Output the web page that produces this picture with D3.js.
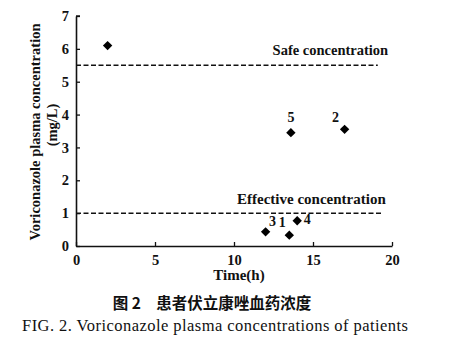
<!DOCTYPE html>
<html>
<head>
<meta charset="utf-8">
<script src="https://cdn.jsdelivr.net/npm/d3@7"></script>
<style>
  html, body { margin: 0; padding: 0; background: #fff; }
  svg { display: block; }
</style>
</head>
<body>
<svg id="chart" width="458" height="348"></svg>
<script>
// Patient measurements: time (h) vs plasma concentration (mg/L)
const patientIds = ["", "5", "2", "3", "1", "4"];
const times = [2.0, 13.6, 17.0, 12.0, 13.5, 14.0];
const concentrations = [6.1, 3.45, 3.55, 0.43, 0.33, 0.77];

// Reference thresholds
const thresholdNames = ["Safe concentration", "Effective concentration"];
const thresholdValues = [5.5, 1.0];
const thresholdEnds = [19.1, 19.4];

const xTicks = [0, 5, 10, 15, 20];
const yTicks = [0, 1, 2, 3, 4, 5, 6, 7];

const serif = "'Liberation Serif', 'Times New Roman', serif";
const svg = d3.select("#chart");

const x = d3.scaleLinear().domain([0, 20]).range([76, 392]);
const y = d3.scaleLinear().domain([0, 7]).range([246, 16]);

// Axes with inward ticks
const xAxis = d3.axisBottom(x).tickValues(xTicks).tickFormat(d3.format("d"))
  .tickSizeInner(-4).tickSizeOuter(0).tickPadding(8);
const yAxis = d3.axisLeft(y).tickValues(yTicks).tickFormat(d3.format("d"))
  .tickSizeInner(-4).tickSizeOuter(0).tickPadding(7);

const gx = svg.append("g").attr("transform", `translate(0,${y(0)})`).call(xAxis);
const gy = svg.append("g").attr("transform", `translate(${x(0)},0)`).call(yAxis);

[gx, gy].forEach(g => {
  g.select(".domain").attr("stroke", "#111").attr("stroke-width", 1.6);
  g.selectAll(".tick line").attr("stroke", "#111").attr("stroke-width", 1.3);
  g.selectAll(".tick text")
    .attr("font-family", serif).attr("font-weight", "bold")
    .attr("font-size", 14.5).attr("fill", "#111");
});
gx.selectAll(".tick text").attr("dy", "0.75em");

// Small cap at the top of the y axis
svg.append("line")
  .attr("x1", x(0)).attr("x2", x(0) + 4)
  .attr("y1", y(7)).attr("y2", y(7))
  .attr("stroke", "#111").attr("stroke-width", 1.4);

// Threshold lines
thresholdValues.forEach((v, i) => {
  svg.append("line")
    .attr("x1", x(0)).attr("x2", x(thresholdEnds[i]))
    .attr("y1", y(v)).attr("y2", y(v))
    .attr("stroke", "#111").attr("stroke-width", 1.5)
    .attr("stroke-dasharray", "5,2.5");
});

svg.append("text")
  .attr("x", x(16.1)).attr("y", y(thresholdValues[0]) - 10)
  .attr("text-anchor", "middle")
  .attr("font-family", serif).attr("font-weight", "bold").attr("font-size", 14.5)
  .attr("fill", "#111")
  .text(thresholdNames[0]);

svg.append("text")
  .attr("x", x(14.9)).attr("y", y(thresholdValues[1]) - 9)
  .attr("text-anchor", "middle")
  .attr("font-family", serif).attr("font-weight", "bold").attr("font-size", 15)
  .attr("fill", "#111")
  .text(thresholdNames[1]);

// Diamond markers
const diamond = d3.symbol().type(d3.symbolDiamond2).size(56);
const pts = times.map((t, i) => ({ t, c: concentrations[i], id: patientIds[i] }));

svg.append("g").selectAll("path")
  .data(pts).join("path")
  .attr("transform", d => `translate(${x(d.t)},${y(d.c)})`)
  .attr("d", diamond)
  .attr("fill", "#000");

// Patient number labels (offset per point)
const labelOffsets = {
  "5": [0, -11],
  "2": [-9, -7],
  "3": [7, -6],
  "1": [-7, -8],
  "4": [10, 3]
};
svg.append("g").selectAll("text")
  .data(pts.filter(d => d.id !== "")).join("text")
  .attr("x", d => x(d.t) + labelOffsets[d.id][0])
  .attr("y", d => y(d.c) + labelOffsets[d.id][1])
  .attr("text-anchor", "middle")
  .attr("font-family", serif).attr("font-weight", "bold").attr("font-size", 14)
  .attr("fill", "#111")
  .text(d => d.id);

// Axis titles
svg.append("text")
  .attr("transform", "translate(40,132) rotate(-90)")
  .attr("text-anchor", "middle")
  .attr("font-family", serif).attr("font-weight", "bold").attr("font-size", 14.5)
  .attr("fill", "#111")
  .text("Voriconazole plasma concentration");
svg.append("text")
  .attr("transform", "translate(57,125) rotate(-90)")
  .attr("text-anchor", "middle")
  .attr("font-family", serif).attr("font-weight", "bold").attr("font-size", 14.5)
  .attr("fill", "#111")
  .text("(mg/L)");

svg.append("text")
  .attr("x", 239).attr("y", 280)
  .attr("text-anchor", "middle")
  .attr("font-family", serif).attr("font-weight", "bold").attr("font-size", 15)
  .attr("fill", "#111")
  .text("Time(h)");

// Captions
svg.append("text")
  .attr("x", 212).attr("y", 309)
  .attr("text-anchor", "middle")
  .attr("font-family", "'Noto Sans CJK SC', sans-serif").attr("font-weight", "bold").attr("font-size", 15.5)
  .attr("fill", "#111")
  .attr("xml:space", "preserve")
  .text("图 2　患者伏立康唑血药浓度");

svg.append("text")
  .attr("x", 22).attr("y", 331)
  .attr("font-family", serif).attr("font-size", 16.5)
  .attr("fill", "#111")
  .attr("textLength", 386).attr("lengthAdjust", "spacing")
  .text("FIG. 2.  Voriconazole plasma concentrations of patients");
</script>
</body>
</html>
